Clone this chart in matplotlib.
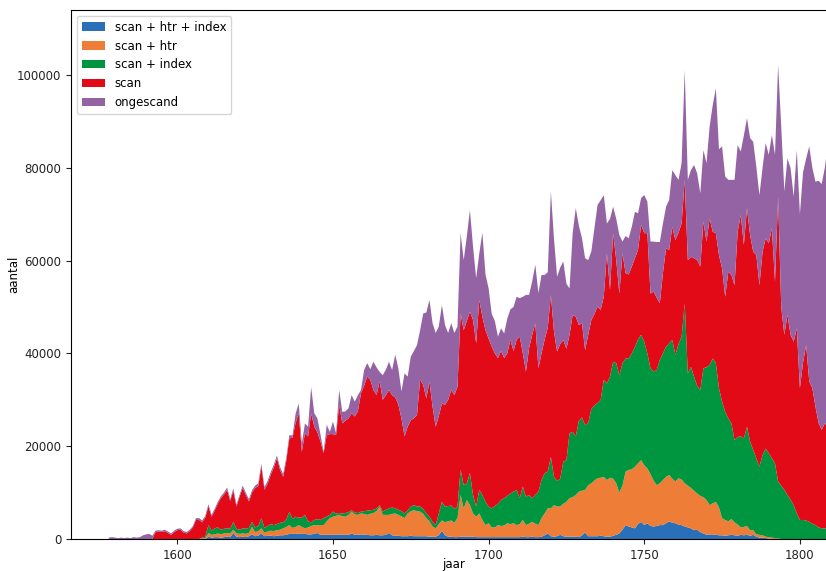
import numpy as np
import matplotlib
matplotlib.use("Agg")
import matplotlib.pyplot as plt

years = np.arange(1578, 1810)

labels = ["scan + htr + index", "scan + htr", "scan + index", "scan", "ongescand"]
colors = ["#2a70b8", "#ee7d37", "#00963f", "#e20a16", "#9463a3"]

scan_htr_index = [
    0, 0,
    0, 0, 0, 0, 0, 0, 0, 0, 0, 0,
    0, 0, 0, 0, 0, 0, 0, 0, 0, 0,
    0, 0, 0, 0, 0, 0, 0, 0, 0, 0,
    500, 300, 400, 400, 300, 400, 500, 400, 1300, 500,
    400, 500, 400, 600, 1000, 600, 700, 1200, 600, 700,
    700, 600, 700, 800, 800, 900, 1100, 1100, 1100, 1200,
    1100, 1100, 1000, 1000, 1100, 1300, 900, 900, 900, 900,
    900, 900, 1000, 900, 900, 900, 1200, 900, 900, 1000,
    900, 900, 800, 800, 900, 800, 800, 900, 1300, 800,
    700, 700, 600, 600, 600, 700, 600, 600, 600, 600,
    600, 500, 500, 500, 800, 1800, 800, 500, 500, 400,
    400, 500, 500, 500, 500, 500, 400, 400, 400, 400,
    400, 400, 400, 400, 400, 400, 400, 400, 400, 400,
    400, 500, 400, 400, 500, 400, 400, 500, 800, 1200,
    600, 500, 600, 900, 600, 500, 500, 500, 500, 400,
    800, 1400, 600, 600, 600, 600, 700, 600, 500, 500,
    700, 900, 1200, 2000, 3000, 2700, 2500, 2300, 3200, 3700,
    3000, 3400, 2800, 2700, 2800, 3000, 3000, 3400, 3800, 3500,
    3400, 3100, 3000, 2700, 2500, 2300, 1900, 2000, 1500, 1200,
    900, 1000, 1000, 900, 800, 800, 700, 800, 900, 800,
    700, 900, 800, 900, 700, 900, 500, 300, 300, 200,
    100, 0, 0, 0, 0, 0, 0, 0, 0, 0,
    0, 0, 0, 0, 0, 0, 0, 0, 0, 0,
]

scan_htr = [
    0, 0,
    0, 0, 0, 0, 0, 0, 0, 0, 0, 0,
    0, 0, 0, 0, 0, 0, 0, 0, 0, 0,
    0, 0, 0, 0, 0, 0, 0, 0, 100, 200,
    800, 600, 600, 800, 700, 800, 800, 800, 700, 700,
    700, 700, 700, 700, 1600, 900, 1000, 1100, 800, 900,
    1100, 1100, 1200, 1200, 1500, 1700, 1900, 1300, 1500, 1800,
    1500, 1200, 1500, 1800, 1900, 1700, 2100, 2100, 2900, 3600,
    3900, 4100, 4200, 4000, 3900, 4300, 4700, 4400, 4300, 4500,
    4500, 4300, 4600, 4800, 5100, 6200, 4400, 4300, 3900, 4600,
    4800, 4500, 4300, 3900, 4900, 5300, 5600, 5400, 5300, 4800,
    3900, 3300, 2200, 1800, 2400, 2200, 2800, 3300, 3500, 3100,
    4100, 9000, 6100, 7900, 6800, 5000, 4400, 5100, 3700, 2600,
    3000, 2100, 2100, 2600, 2400, 2500, 3000, 2800, 3000, 2600,
    2800, 3600, 2600, 2900, 3200, 2900, 2600, 4000, 4700, 5400,
    6000, 6800, 6400, 6100, 7000, 7500, 8300, 8500, 9000, 9800,
    9600, 9200, 11000, 11400, 12000, 12500, 12500, 12800, 12200, 12700,
    12300, 11100, 8800, 9500, 11500, 12200, 12500, 13300, 13100, 13300,
    12900, 11800, 11200, 9900, 8800, 9000, 9700, 10000, 10000, 9500,
    9000, 10000, 9800, 9300, 9000, 8700, 8500, 7800, 7800, 7800,
    7500, 6300, 6700, 7100, 6000, 3700, 3400, 3000, 3400, 2800,
    2400, 1600, 1800, 1900, 1200, 1000, 500, 600, 500, 300,
    300, 300, 200, 100, 0, 0, 0, 0, 0, 0,
    0, 0, 0, 0, 0, 0, 0, 0, 0, 0,
]

scan_index = [
    0, 0,
    0, 0, 0, 0, 0, 0, 0, 0, 0, 0,
    0, 0, 0, 0, 0, 0, 0, 0, 0, 0,
    0, 0, 0, 0, 0, 0, 0, 0, 200, 300,
    1700, 900, 1300, 1300, 1000, 1000, 1000, 1000, 1700, 1000,
    900, 1100, 1100, 1100, 1100, 1000, 1100, 2200, 1000, 1200,
    1400, 1300, 1300, 1500, 1300, 1600, 2900, 1900, 2200, 1600,
    2000, 2900, 1300, 800, 1100, 1300, 1100, 1500, 1000, 700,
    1100, 500, 400, 600, 800, 600, 300, 400, 400, 400,
    600, 900, 800, 700, 600, 300, 700, 1100, 1400, 1400,
    1100, 1100, 1100, 1000, 700, 1000, 1100, 1000, 1100, 1100,
    1000, 1000, 1000, 700, 2300, 4000, 3400, 3300, 3200, 3000,
    2500, 5400, 5000, 3600, 6900, 4000, 2200, 5100, 5400, 5000,
    3600, 4100, 4600, 4600, 5600, 5900, 5900, 6600, 6800, 7600,
    5600, 7200, 6100, 6200, 5100, 6200, 7200, 8200, 8700, 7900,
    11100, 6100, 5500, 6000, 9100, 9000, 14000, 14100, 12600, 15300,
    15800, 13900, 13400, 16000, 16200, 16200, 16800, 20900, 20800, 21800,
    25200, 25900, 25300, 26400, 24400, 24000, 25000, 25800, 26700, 27000,
    26600, 24800, 22800, 23500, 24800, 26600, 27300, 28000, 28400, 29900,
    27300, 28900, 30800, 38800, 24200, 26100, 24600, 23200, 22800, 27800,
    28600, 30200, 31200, 29900, 25700, 25100, 23300, 22200, 20600, 17700,
    18900, 19600, 19100, 21400, 19100, 17300, 16400, 14700, 17300, 19000,
    18100, 17100, 16100, 12300, 11500, 10600, 9500, 8500, 7300, 5500,
    4100, 4100, 4000, 3700, 3300, 3000, 2500, 2300, 2300, 2300,
]

scan = [
    0, 0,
    0, 0, 0, 0, 0, 0, 0, 0, 0, 0,
    0, 0, 0, 1500, 1600, 1500, 1700, 1300, 900, 1500,
    1900, 2000, 1400, 1200, 1700, 2500, 4100, 4100, 3300, 4100,
    4100, 3000, 3800, 5100, 6800, 7400, 8300, 6000, 6700, 4800,
    7100, 8700, 7300, 5700, 6300, 8500, 8600, 11100, 8200, 9100,
    10600, 12400, 14200, 11400, 9800, 12600, 15800, 17500, 20200, 22500,
    14200, 17600, 18300, 23500, 20100, 18700, 16900, 14000, 17600, 17400,
    16700, 16900, 23300, 19400, 19900, 20200, 20900, 20700, 21900, 25500,
    27000, 28900, 28100, 25800, 24400, 26700, 24100, 24700, 25500, 24200,
    23900, 22700, 20000, 16600, 18000, 18600, 18700, 19700, 27300, 26700,
    24800, 29100, 24800, 21200, 21000, 21200, 21900, 22900, 24900, 24500,
    25800, 33700, 33400, 35000, 34800, 37700, 35200, 40900, 38400, 37000,
    36200, 34900, 32900, 31400, 32100, 30200, 30700, 33100, 30300, 32300,
    34800, 28700, 27000, 31600, 35200, 37000, 26600, 27300, 28800, 31000,
    34900, 31300, 27900, 29000, 26200, 24000, 21200, 25200, 25800, 20600,
    20300, 16200, 19000, 19200, 19700, 20800, 19400, 17900, 28100, 18700,
    27700, 22200, 17600, 23700, 18400, 18100, 18700, 19100, 19300, 23700,
    23400, 25900, 16100, 17200, 15600, 12200, 17300, 21200, 20100, 24400,
    24700, 24000, 24400, 26600, 24400, 23700, 25500, 27100, 26600, 31600,
    27100, 31600, 27300, 28000, 28700, 28700, 24800, 31600, 32000, 33400,
    44200, 47700, 41700, 47100, 44500, 42700, 43800, 39100, 43800, 45300,
    45200, 49600, 39200, 61400, 38500, 33400, 38800, 35500, 35200, 39900,
    28400, 33900, 37800, 30300, 29200, 25500, 22500, 21200, 22700, 21700,
]

ongescand = [
    300, 400,
    300, 200, 300, 200, 300, 200, 400, 300, 400, 800,
    1000, 1100, 700, 300, 300, 300, 300, 300, 300, 300,
    300, 300, 300, 300, 300, 300, 400, 400, 400, 400,
    400, 400, 400, 400, 400, 400, 500, 400, 500, 400,
    400, 500, 500, 500, 500, 500, 600, 600, 600, 600,
    600, 600, 600, 600, 600, 700, 700, 500, 2000, 2100,
    1800, 2100, 2100, 5600, 2900, 3000, 1500, 300, 2200, 500,
    2700, 400, 3200, 2500, 2000, 2200, 3900, 3200, 3500, 700,
    3400, 2900, 2300, 6100, 6000, 2000, 5300, 5500, 6100, 5400,
    9200, 7800, 5800, 13600, 10800, 13700, 14500, 15100, 10700, 15400,
    18500, 17600, 18000, 20200, 19300, 21200, 17200, 14400, 14400, 13400,
    13000, 17300, 15100, 18200, 21900, 15800, 14000, 10000, 18100, 12000,
    10800, 7000, 7000, 4600, 4900, 5300, 7500, 6600, 9500, 9300,
    8300, 12200, 16500, 11500, 11500, 12600, 16200, 16900, 13900, 12000,
    22300, 20100, 16100, 16500, 16900, 14000, 10000, 17600, 23400, 21400,
    18300, 19800, 16100, 14800, 18500, 21900, 23600, 21900, 6400, 15300,
    5700, 8900, 12600, 2500, 8000, 7800, 8600, 10000, 7900, 5800,
    8200, 6800, 11200, 10800, 12000, 13200, 10700, 9000, 10800, 12200,
    14000, 11400, 13000, 23700, 17300, 18700, 20100, 18700, 15800, 15400,
    16900, 19800, 27300, 31200, 22800, 26300, 25900, 19800, 20500, 22700,
    18700, 13700, 23600, 19400, 20900, 23700, 19000, 19400, 18100, 20500,
    19100, 20100, 27300, 28400, 38900, 30900, 33700, 35900, 31300, 38400,
    37500, 41000, 40200, 50600, 47500, 48500, 52200, 53000, 55000, 61000,
]

x_ticks = [1600, 1650, 1700, 1750, 1800]
y_ticks = [0, 20000, 40000, 60000, 80000, 100000]

plt.rcParams["font.family"] = ["DejaVu Sans"]
fig = plt.figure(figsize=(8.26, 5.71), dpi=100)
ax = fig.add_axes([71 / 826, 1 - 539 / 571, (837 - 71) / 826, (539 - 10) / 571])

ax.stackplot(years, scan_htr_index, scan_htr, scan_index, scan, ongescand,
             labels=labels, colors=colors, linewidth=0)

ax.set_xlim(1565.85, 1565.85 + (837 - 71) / 3.113)
ax.set_ylim(0, 114000)
ax.set_xticks(x_ticks)
ax.set_yticks(y_ticks)
ax.tick_params(labelsize=8.5, colors="#222222")
ax.set_xlabel("jaar", fontsize=8.5)
ax.set_ylabel("aantal", fontsize=8.5)
ax.xaxis.set_label_coords(0.5, -(558 - 539) / 529)
ax.yaxis.set_label_coords((20 - 71) / 766, 0.5)
ax.spines["right"].set_visible(False)
ax.legend(loc="upper left", fontsize=8.5)

fig.savefig("out.png", dpi=100)
